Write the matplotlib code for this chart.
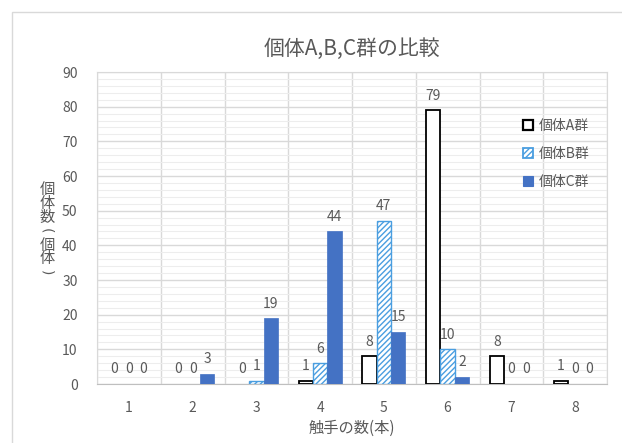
import matplotlib.pyplot as plt
from matplotlib.patches import Rectangle, Patch
import numpy as np

plt.rcParams['font.family'] = ['Noto Sans CJK JP', 'DejaVu Sans']

# data
categories = [1, 2, 3, 4, 5, 6, 7, 8]
group_a = [0, 0, 0, 1, 8, 79, 8, 1]
group_b = [0, 0, 1, 6, 47, 10, 0, 0]
group_c = [0, 3, 19, 44, 15, 2, 0, 0]
series_names = ["個体A群", "個体B群", "個体C群"]

TEXT = "#595959"
GRID = "#d9d9d9"
MINOR = "#ededed"

# bar styles: (face, edge, hatch, linewidth)
styles = [
    ("white", "black", None, 1.3),
    ("white", "#4a9ee0", "//////", 1.0),
    ("#4472c4", "#4472c4", None, 0.5),
]

fig = plt.figure(figsize=(6.22, 4.43), dpi=100)
# outer chart frame
fig.patches.append(Rectangle((12 / 622, -0.1), 1.1, 1 - 12 / 443 + 0.1,
                             transform=fig.transFigure, fill=False,
                             edgecolor="#d9d9d9", linewidth=1))
ax = fig.add_axes([97 / 622, 1 - 384 / 443, 510 / 622, 312 / 443])

x = np.array(categories)
w = 0.225
offsets = [-w, 0, w]

for vals, off, (fc, ec, hatch, lw) in zip([group_a, group_b, group_c], offsets, styles):
    # zero-height bars show no outline in the reference
    lws = [lw if v > 0 else 0 for v in vals]
    bars = ax.bar(x + off, vals, w, facecolor=fc, edgecolor=ec, hatch=hatch,
                  linewidth=lws, zorder=3)
    for b, v in zip(bars, vals):
        ax.text(b.get_x() + b.get_width() / 2, v + 2.2, str(v),
                ha="center", va="bottom", fontsize=10, color=TEXT)

ax.set_xlim(0.5, 8.5)
ax.set_ylim(0, 90)
ax.set_yticks(np.arange(0, 91, 10))
ax.set_yticks(np.arange(0, 91, 2), minor=True)
ax.set_xticks(categories)
ax.set_xticks(np.arange(0.5, 8.6, 1), minor=True)
ax.grid(which="major", axis="y", color=GRID, linewidth=1, zorder=0)
ax.grid(which="minor", axis="y", color=MINOR, linewidth=0.8, zorder=0)
ax.grid(which="minor", axis="x", color=GRID, linewidth=1, zorder=0)
ax.tick_params(which="both", length=0, colors=TEXT, labelsize=10)
ax.tick_params(axis="x", pad=12)
ax.tick_params(axis="y", pad=14)
for side in ["top", "right", "left"]:
    ax.spines[side].set_color(GRID)
ax.spines["bottom"].set_color("#bfbfbf")

ax.set_title("個体A,B,C群の比較", fontsize=15, color=TEXT, pad=12)
ax.set_xlabel("触手の数(本)", fontsize=11, color=TEXT, labelpad=4)

# vertical y label, one character per line, brackets turned sideways
ylabel_chars = ["個", "体", "数", "(", "個", "体", ")"]
y0 = 189
for i, ch in enumerate(ylabel_chars):
    yy = 1 - (y0 + i * 14) / 443
    if ch in "()":
        fig.text(46 / 622, yy, ch, fontsize=10, color=TEXT, ha="center",
                 va="center", rotation=-90, family="DejaVu Sans")
    else:
        fig.text(47 / 622, yy, ch, fontsize=11, color=TEXT,
                 ha="center", va="center")

handles = [Patch(facecolor=fc, edgecolor=ec, hatch=hatch, linewidth=lw + 0.3)
           for fc, ec, hatch, lw in styles]
leg = ax.legend(handles, series_names, loc="upper right",
                bbox_to_anchor=(0.99, 0.89), frameon=False,
                fontsize=10, handlelength=0.7, handleheight=0.7,
                handletextpad=0.4, labelspacing=1.0)
for t in leg.get_texts():
    t.set_color(TEXT)

fig.savefig("out.png", dpi=100)
